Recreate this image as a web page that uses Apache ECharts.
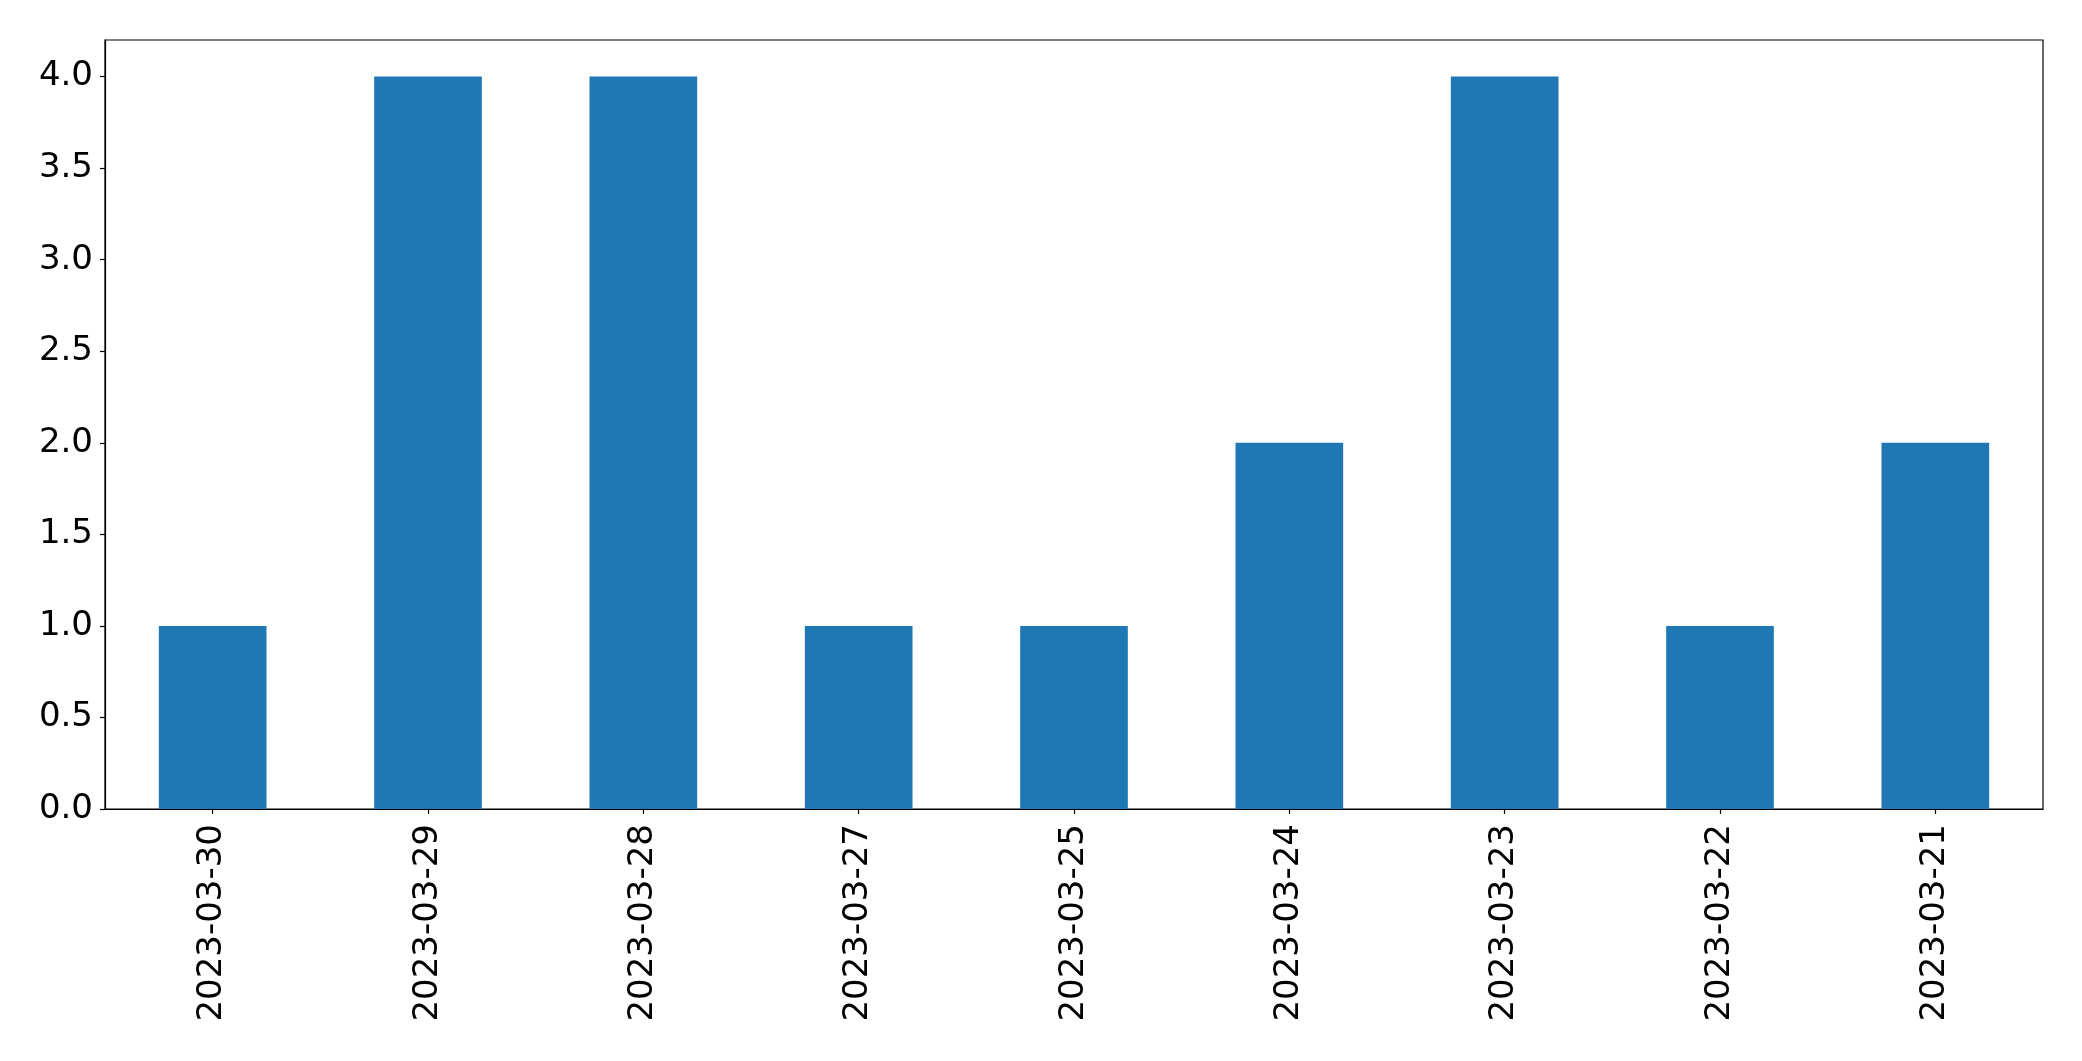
<!DOCTYPE html>
<html>
<head>
<meta charset="utf-8">
<script src="https://cdn.jsdelivr.net/npm/echarts@6/dist/echarts.min.js"></script>
<style>
html,body{margin:0;padding:0;background:#fff;}
#chart{width:2082px;height:1061px;}
</style>
</head>
<body>
<div id="chart"></div>
<script>
const categories = ['2023-03-30','2023-03-29','2023-03-28','2023-03-27','2023-03-25','2023-03-24','2023-03-23','2023-03-22','2023-03-21'];
const values = [1,4,4,1,1,2,4,1,2];

const chart = echarts.init(document.getElementById('chart'), null, {renderer:'canvas'});
const font = 'DejaVu Sans';
chart.setOption({
  animation: false,
  backgroundColor: '#fff',
  grid: {left:105, right:39, top:40, bottom:252, show:true, borderColor:'#000', borderWidth:1.2, backgroundColor:'transparent'},
  xAxis: {
    type:'category',
    data: categories,
    axisLine:{show:true, lineStyle:{color:'#000', width:1.2}},
    axisTick:{show:true, alignWithLabel:true, length:5, lineStyle:{color:'#000', width:1.2}},
    axisLabel:{rotate:90, fontFamily:font, fontSize:34, color:'#000', margin:15, interval:0},
    splitLine:{show:false}
  },
  yAxis: {
    type:'value',
    min:0, max:4.2, interval:0.5,
    axisLine:{show:true, lineStyle:{color:'#000', width:1.2}},
    axisTick:{show:true, length:5, lineStyle:{color:'#000', width:1.2}},
    axisLabel:{fontFamily:font, fontSize:34, color:'#000', margin:12, showMaxLabel:false,
      formatter: v => v.toFixed(1)},
    splitLine:{show:false}
  },
  series: [{
    type:'bar',
    data: values,
    barWidth:'50%',
    itemStyle:{color:'#1f77b4'}
  }]
});
</script>
</body>
</html>
